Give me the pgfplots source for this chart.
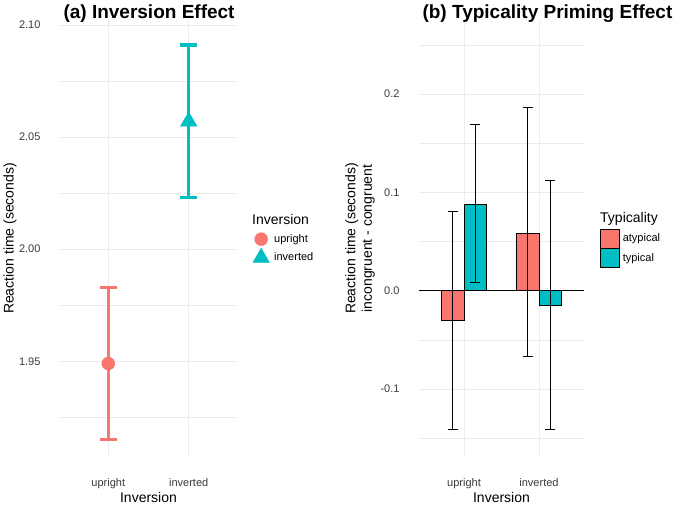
\documentclass[border=0pt]{standalone}
\usepackage{pgfplots}
\pgfplotsset{compat=1.18}
\usepackage{pgfplotstable}
\usepackage{fontspec}
\setmainfont{Liberation Sans}

\definecolor{ggred}{HTML}{F8766D}
\definecolor{ggcyan}{HTML}{00BFC4}
\definecolor{gridgrey}{HTML}{EBEBEB}
\definecolor{tickgrey}{HTML}{3A3A3A}

% (a) mean RT with error bars
\pgfplotstableread{
x y ep em
1 1.949 0.034 0.034
}\uprightdata
\pgfplotstableread{
x y ep em
2 2.057 0.034 0.034
}\inverteddata

% (b) priming effect, bars dodged by 0.15
\pgfplotstableread{
x y ep em
0.85 -0.030 0.111 0.111
1.85 0.058 0.128 0.125
}\atypicaldata
\pgfplotstableread{
x y ep em
1.15 0.088 0.081 0.080
2.15 -0.015 0.127 0.126
}\typicaldata

\pgfplotsset{
  ggpanel/.style={
    scale only axis,
    height=437pt,
    axis line style={draw=none},
    major tick length=0pt, minor tick length=0pt,
    tick label style={font=\fontsize{11}{13}\selectfont, text=tickgrey},
    /pgf/number format/assume math mode=true,
    grid=both,
    major grid style={gridgrey, line width=0.8pt},
    minor grid style={gridgrey, line width=0.4pt},
    xmin=0.4, xmax=2.6, xtick={1,2}, xticklabels={upright,inverted},
    yticklabel style={xshift=-16pt},
    xticklabel style={yshift=-18pt},
    label style={font=\fontsize{14}{16.5}\selectfont},
    xlabel style={at={(axis description cs:0.5,0)}, anchor=center, yshift=-40pt},
    title style={at={(axis description cs:0,1)}, anchor=west, yshift=0pt,
      font=\fontsize{19}{21}\selectfont\bfseries},
    legend cell align=left,
  }
}

\begin{document}
\begin{tikzpicture}
\useasboundingbox (0pt,0pt) rectangle (675pt,-506pt);

\begin{axis}[ggpanel,
  at={(60pt,-457pt)}, anchor=south west,
  width=177pt,
  ymin=1.9073, ymax=2.1022,
  ytick={1.95,2.00,2.05,2.10},
  minor ytick={1.925,1.975,2.025,2.075},
  yticklabel style={/pgf/number format/.cd, fixed, fixed zerofill, precision=2},
  title={(a) Inversion Effect},
  xlabel={Inversion},
  ylabel={Reaction time (seconds)},
  ylabel style={at={(axis description cs:-0.2825,0.5)}, anchor=center},
  legend style={at={(axis description cs:1.079,0.5195)}, anchor=north west,
    draw=none, fill=none, inner sep=0pt, row sep=0pt, column sep=2pt,
    nodes={inner sep=1pt}, font=\fontsize{11}{13}\selectfont},
  legend image code/.code={\path[draw=none, fill=none] (0pt,-9pt) rectangle (20pt,9pt);
    \draw[#1, only marks] plot coordinates {(10pt,0pt)};},
]
\addplot[only marks, mark=*, mark size=6.5pt, color=ggred,
  error bars/.cd, y dir=both, y explicit, error mark=|,
  error bar style={line width=3.5pt, ggred},
  error mark options={mark size=8.5pt, line width=3.5pt, ggred}]
  table[x=x, y=y, y error plus=ep, y error minus=em]{\uprightdata};
\addlegendentry{upright}
\addplot[only marks, mark=triangle*, mark size=9.5pt, color=ggcyan,
  error bars/.cd, y dir=both, y explicit, error mark=|,
  error bar style={line width=3.5pt, ggcyan},
  error mark options={mark size=8.5pt, line width=3.5pt, ggcyan}]
  table[x=x, y=y, y error plus=ep, y error minus=em]{\inverteddata};
\addlegendentry{inverted}
\end{axis}

\begin{axis}[ggpanel,
  at={(419pt,-457pt)}, anchor=south west,
  width=165pt,
  ymin=-0.1692, ymax=0.2753,
  ytick={-0.1,0,0.1,0.2},
  minor ytick={-0.15,-0.05,0.05,0.15,0.25},
  yticklabel style={/pgf/number format/.cd, fixed, fixed zerofill, precision=1},
  title={(b) Typicality Priming Effect},
  xlabel={Inversion},
  ylabel={Reaction time (seconds)\\incongruent - congruent},
  ylabel style={at={(axis description cs:-0.357,0.5)}, anchor=center, align=center},
  legend style={at={(axis description cs:1.094,0.523)}, anchor=north west,
    draw=none, fill=none, inner sep=0pt, row sep=0pt, column sep=3pt,
    nodes={inner sep=0.5pt}, font=\fontsize{11}{13}\selectfont},
  legend image code/.code={\draw[#1] (0pt,-9.5pt) rectangle (19pt,9.5pt);},
]
\addplot[black, line width=0.8pt, forget plot] coordinates {(0.4,0) (2.6,0)};
\addplot[ybar, bar width=0.3, bar shift=0pt, fill=ggred, draw=black, line width=0.6pt,
  error bars/.cd, y dir=both, y explicit, error mark=|,
  error bar style={black, line width=0.8pt},
  error mark options={black, mark size=5pt, line width=0.8pt}]
  table[x=x, y=y, y error plus=ep, y error minus=em]{\atypicaldata};
\addlegendentry{atypical}
\addplot[ybar, bar width=0.3, bar shift=0pt, fill=ggcyan, draw=black, line width=0.6pt,
  error bars/.cd, y dir=both, y explicit, error mark=|,
  error bar style={black, line width=0.8pt},
  error mark options={black, mark size=5pt, line width=0.8pt}]
  table[x=x, y=y, y error plus=ep, y error minus=em]{\typicaldata};
\addlegendentry{typical}
\end{axis}

\node[anchor=west, inner sep=0pt, font=\fontsize{14}{16}\selectfont] at (252pt,-219pt) {Inversion};
\node[anchor=west, inner sep=0pt, font=\fontsize{14}{16}\selectfont] at (600pt,-219pt) {Typicality};
\end{tikzpicture}
\end{document}
